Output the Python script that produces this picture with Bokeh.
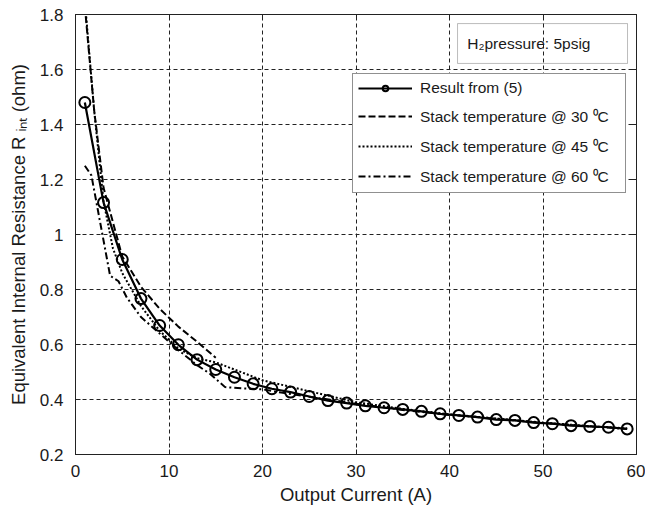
from bokeh.plotting import figure
from bokeh.models import Range1d, LinearAxis, CustomJSTickFormatter, BoxAnnotation, Label
from bokeh.embed import file_html
from bokeh.resources import INLINE

# ---- data ----
current_model = [1, 3, 5, 7, 9, 11, 13, 15, 17, 19, 21, 23, 25, 27, 29,
                 31, 33, 35, 37, 39, 41, 43, 45, 47, 49, 51, 53, 55, 57, 59]
r_model = [1.48, 1.116, 0.909, 0.767, 0.669, 0.599, 0.545, 0.509, 0.481, 0.457,
           0.439, 0.427, 0.411, 0.396, 0.387, 0.377, 0.370, 0.364, 0.357, 0.348,
           0.342, 0.336, 0.327, 0.324, 0.316, 0.312, 0.305, 0.302, 0.299, 0.293]

current_30 = [1, 2, 3, 5, 7, 9, 11, 13, 15]
r_30 = [1.83, 1.45, 1.17, 0.92, 0.81, 0.73, 0.665, 0.61, 0.552]

current_45 = [1, 2, 3, 4, 5, 7, 9, 11, 13, 15, 20, 25, 30, 35, 40, 45, 50, 55, 59]
r_45 = [1.85, 1.45, 1.12, 0.95, 0.86, 0.74, 0.65, 0.585, 0.55, 0.535, 0.47,
        0.43, 0.39, 0.366, 0.346, 0.331, 0.316, 0.303, 0.295]

current_60 = [1, 1.7, 3.7, 4.6, 5.5, 7, 9, 11, 13, 14.4, 16, 18, 20, 22, 25,
              30, 35, 40, 45, 50, 55, 59]
r_60 = [1.25, 1.215, 0.85, 0.83, 0.77, 0.70, 0.64, 0.58, 0.525, 0.493, 0.445,
        0.44, 0.437, 0.425, 0.41, 0.385, 0.362, 0.344, 0.33, 0.315, 0.302, 0.293]

labels = ["Result from (5)",
          "Stack temperature @ 30 \u2070C",
          "Stack temperature @ 45 \u2070C",
          "Stack temperature @ 60 \u2070C"]
annotation_text = "H\u2082pressure: 5psig"
x_label = "Output Current (A)"
y_label = "Equivalent Internal Resistance R \u1d62\u2099\u209c (ohm)"

FONT = "Liberation Sans"

p = figure(width=645, height=509, output_backend="svg", toolbar_location=None,
           x_range=Range1d(0, 60), y_range=Range1d(0.2, 1.8),
           min_border_left=75, min_border_right=9, min_border_top=14,
           min_border_bottom=55)
p.background_fill_color = "white"
p.border_fill_color = "white"
p.outline_line_color = "#222222"
p.outline_line_width = 1

# grid
for g in (p.xgrid, p.ygrid):
    g.grid_line_color = "#222222"
    g.grid_line_dash = "4 3"
    g.grid_line_width = 1

# axes
for ax in (p.xaxis, p.yaxis):
    ax.major_tick_in = 5
    ax.major_tick_out = 0
    ax.minor_tick_line_color = None
    ax.axis_line_color = "#222222"
    ax.major_tick_line_color = "#222222"
    ax.major_label_text_font = FONT
    ax.major_label_text_font_size = "17px"
    ax.major_label_text_color = "#1a1a1a"
    ax.axis_label_text_font = FONT
    ax.axis_label_text_font_size = "18.5px"
    ax.axis_label_text_font_style = "normal"
    ax.axis_label_text_color = "#1a1a1a"

p.xaxis.axis_label = x_label
p.yaxis.axis_label = y_label
p.xaxis.major_label_standoff = 6
p.xaxis.axis_label_standoff = 4
p.yaxis.major_label_standoff = 8
p.yaxis.axis_label_standoff = 8
p.yaxis.formatter = CustomJSTickFormatter(
    code="var s = tick.toFixed(1); return s.endsWith('.0') ? s.slice(0, -2) : s;")

# mirrored tick axes (top, right) without labels
for loc in ("right", "above"):
    a = LinearAxis(major_tick_in=5, major_tick_out=0, minor_tick_line_color=None,
                   major_label_standoff=0,
                   formatter=CustomJSTickFormatter(code="return '';"),
                   axis_line_color="#222222", major_tick_line_color="#222222")
    p.add_layout(a, loc)

# series
p.line(current_model, r_model, line_color="black", line_width=2.2, legend_label=labels[0])
p.scatter(current_model, r_model, marker="circle", size=11, fill_color=None,
          line_color="black", line_width=2, legend_label=labels[0])
p.line(current_30, r_30, line_color="black", line_width=2, line_dash="7 3",
       legend_label=labels[1])
p.line(current_45, r_45, line_color="black", line_width=2, line_dash="2 2",
       legend_label=labels[2])
p.line(current_60, r_60, line_color="black", line_width=2, line_dash="7 3 2 3",
       legend_label=labels[3])

# legend
lg = p.legend[0]
lg.location = (277, 261)
lg.border_line_color = "#222222"
lg.border_line_width = 1
lg.background_fill_color = "white"
lg.background_fill_alpha = 1
lg.padding = 5
lg.spacing = 8
lg.label_height = 14
lg.glyph_height = 14
lg.glyph_width = 54
lg.label_width = 200
lg.label_standoff = 8
lg.label_text_font = FONT
lg.label_text_font_size = "15.5px"
lg.label_text_color = "#1a1a1a"
lg.margin = 0

# annotation box
p.add_layout(BoxAnnotation(left=40.86, right=59.04, bottom=1.622, top=1.767,
                           fill_alpha=0, line_color="#222222", line_width=1))
p.add_layout(Label(x=41.9, y=1.662, text=annotation_text, text_font=FONT,
                   text_font_size="15.5px", text_color="#1a1a1a"))

open("out.html", "w").write(file_html(p, INLINE))
